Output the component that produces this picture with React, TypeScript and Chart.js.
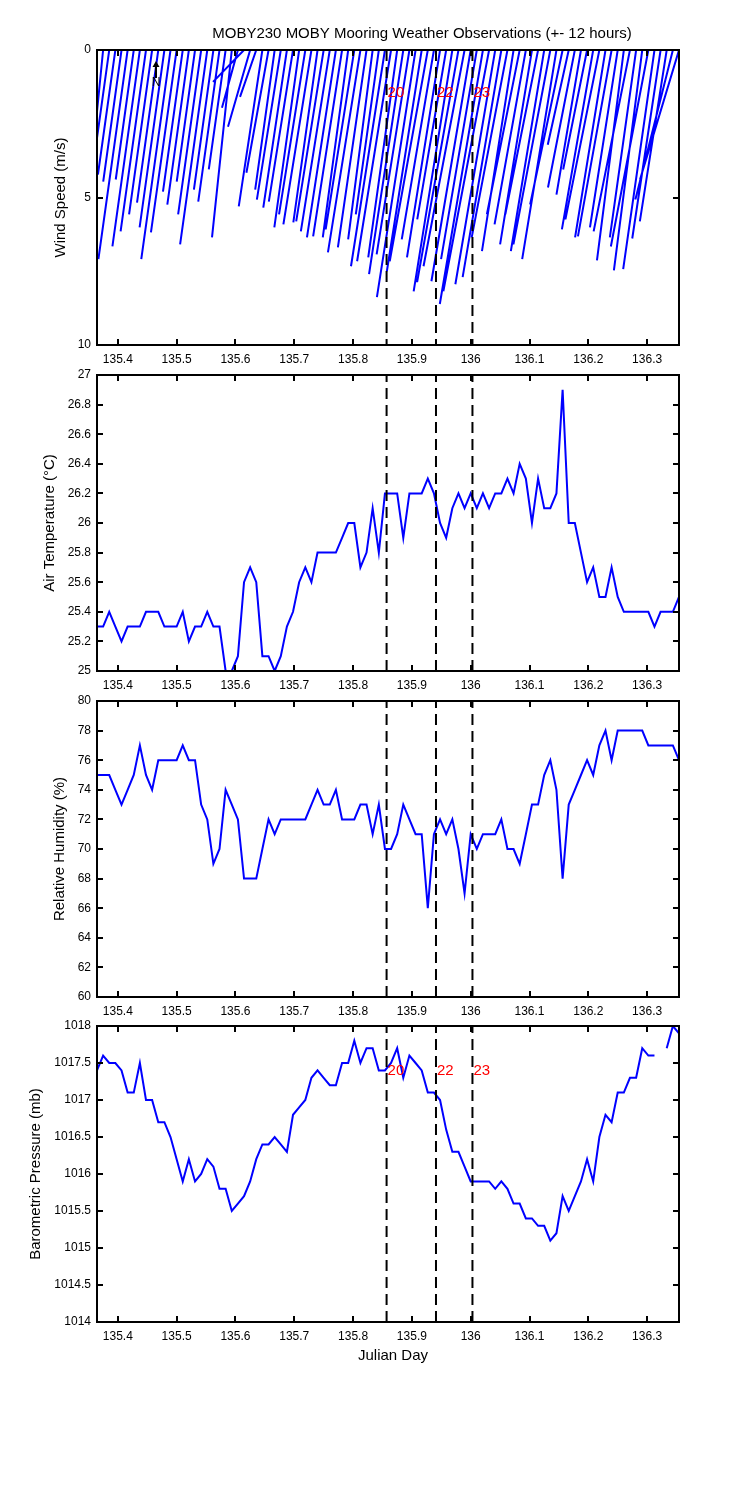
import React, { useEffect, useRef } from "react";
import { Chart, registerables } from "chart.js";

Chart.register(...registerables);

const FONT = "'Liberation Sans', Arial, Helvetica, sans-serif";
const BLUE = "#0000ff";

const chartTitle = "MOBY230 MOBY Mooring Weather Observations (+- 12 hours)";

// Julian day of each 15-minute sample
const julianDay = [
  135.3646, 135.375, 135.3854, 135.3958, 135.4063, 135.4167, 135.4271, 135.4375, 135.4479, 135.4583,
  135.4688, 135.4792, 135.4896, 135.5, 135.5104, 135.5208, 135.5313, 135.5417, 135.5521, 135.5625,
  135.5729, 135.5833, 135.5938, 135.6042, 135.6146, 135.625, 135.6354, 135.6458, 135.6563, 135.6667,
  135.6771, 135.6875, 135.6979, 135.7083, 135.7188, 135.7292, 135.7396, 135.75, 135.7604, 135.7708,
  135.7813, 135.7917, 135.8021, 135.8125, 135.8229, 135.8333, 135.8438, 135.8542, 135.8646, 135.875,
  135.8854, 135.8958, 135.9063, 135.9167, 135.9271, 135.9375, 135.9479, 135.9583, 135.9688, 135.9792,
  135.9896, 136.0, 136.0104, 136.0208, 136.0313, 136.0417, 136.0521, 136.0625, 136.0729, 136.0833,
  136.0938, 136.1042, 136.1146, 136.125, 136.1354, 136.1458, 136.1563, 136.1667, 136.1771, 136.1875,
  136.1979, 136.2083, 136.2188, 136.2292, 136.2396, 136.25, 136.2604, 136.2708, 136.2813, 136.2917,
  136.3021, 136.3125, 136.3229, 136.3333, 136.3438, 136.3542,
];

// wind vector components (m/s)
const windEast = [
  -0.21, -0.52, -0.54, -0.59, -0.62, -0.99, -0.61, -0.93, -0.86, -0.78,
  -0.72, -0.84, -0.99, -0.87, -0.67, -0.73, -0.62, -0.78, -0.92, -0.66,
  -0.72, -0.57, -0.67, -0.54, -1.05, -0.75, -0.55, -0.8, -0.75, -0.66,
  -0.81, -0.8, -0.82, -0.84, -0.89, -0.95, -0.82, -0.93, -0.98, -0.98,
  -0.98, -0.86, -0.97, -1.1, -0.97, -0.83, -0.78, -1.15, -1.15, -0.98,
  -1.16, -1.11, -1.31, -1.18, -1.29, -1.09, -1.12, -0.98, -1.31, -1.4,
  -1.39, -1.33, -1.21, -1.46, -1.55, -1.35, -1.31, -1.21, -1.07, -1.11,
  -1.06, -1.08, -1.11, -1.13, -1.25, -1.16, -1.1, -0.71, -0.91, -0.83,
  -0.81, -1.06, -1.15, -1.03, -1.14, -0.94, -0.91, -1.23, -0.89, -0.96,
  -1.27, -1.06, -0.96, -0.91, -1.27, -1.32,
];
const windNorth = [
  -7.09, -5.24, -3.89, -4.22, -4.46, -7.09, -4.39, -6.66, -6.15, -5.57,
  -5.17, -6.01, -7.09, -6.18, -4.8, -5.24, -4.46, -5.57, -6.59, -4.73,
  -5.14, -4.05, -6.35, -1.96, -1.08, -2.6, -1.59, -5.3, -4.16, -4.73,
  -5.07, -5.34, -5.14, -6.01, -5.57, -5.91, -5.84, -5.81, -6.15, -6.35,
  -6.32, -6.35, -6.08, -6.86, -6.69, -6.42, -5.57, -7.33, -7.16, -7.03,
  -7.6, -6.93, -8.38, -7.5, -7.16, -6.42, -7.03, -5.74, -8.18, -7.87,
  -7.33, -7.84, -7.09, -8.61, -8.18, -7.94, -7.7, -6.35, -6.82, -5.57,
  -5.91, -6.59, -5.57, -6.82, -6.59, -7.09, -5.24, -3.21, -4.66, -4.9,
  -4.05, -6.08, -5.74, -6.35, -6.32, -6.01, -7.13, -6.15, -6.35, -7.47,
  -6.66, -7.43, -6.39, -5.81, -5.07, -4.39,
];

const airTemp = [
  25.3, 25.3, 25.4, 25.3, 25.2, 25.3, 25.3, 25.3, 25.4, 25.4,
  25.4, 25.3, 25.3, 25.3, 25.4, 25.2, 25.3, 25.3, 25.4, 25.3,
  25.3, 25.0, 25.0, 25.1, 25.6, 25.7, 25.6, 25.1, 25.1, 25.0,
  25.1, 25.3, 25.4, 25.6, 25.7, 25.6, 25.8, 25.8, 25.8, 25.8,
  25.9, 26.0, 26.0, 25.7, 25.8, 26.1, 25.8, 26.2, 26.2, 26.2,
  25.9, 26.2, 26.2, 26.2, 26.3, 26.2, 26.0, 25.9, 26.1, 26.2,
  26.1, 26.2, 26.1, 26.2, 26.1, 26.2, 26.2, 26.3, 26.2, 26.4,
  26.3, 26.0, 26.3, 26.1, 26.1, 26.2, 26.9, 26.0, 26.0, 25.8,
  25.6, 25.7, 25.5, 25.5, 25.7, 25.5, 25.4, 25.4, 25.4, 25.4,
  25.4, 25.3, 25.4, 25.4, 25.4, 25.5,
];

const relHumidity = [
  75, 75, 75, 74, 73, 74, 75, 77, 75, 74,
  76, 76, 76, 76, 77, 76, 76, 73, 72, 69,
  70, 74, 73, 72, 68, 68, 68, 70, 72, 71,
  72, 72, 72, 72, 72, 73, 74, 73, 73, 74,
  72, 72, 72, 73, 73, 71, 73, 70, 70, 71,
  73, 72, 71, 71, 66, 71, 72, 71, 72, 70,
  67, 71, 70, 71, 71, 71, 72, 70, 70, 69,
  71, 73, 73, 75, 76, 74, 68, 73, 74, 75,
  76, 75, 77, 78, 76, 78, 78, 78, 78, 78,
  77, 77, 77, 77, 77, 76,
];

const pressure = [
  1017.4, 1017.6, 1017.5, 1017.5, 1017.4, 1017.1, 1017.1, 1017.5, 1017.0, 1017.0,
  1016.7, 1016.7, 1016.5, 1016.2, 1015.9, 1016.2, 1015.9, 1016.0, 1016.2, 1016.1,
  1015.8, 1015.8, 1015.5, 1015.6, 1015.7, 1015.9, 1016.2, 1016.4, 1016.4, 1016.5,
  1016.4, 1016.3, 1016.8, 1016.9, 1017.0, 1017.3, 1017.4, 1017.3, 1017.2, 1017.2,
  1017.5, 1017.5, 1017.8, 1017.5, 1017.7, 1017.7, 1017.4, 1017.4, 1017.5, 1017.7,
  1017.3, 1017.6, 1017.5, 1017.4, 1017.1, 1017.1, 1017.0, 1016.6, 1016.3, 1016.3,
  1016.1, 1015.9, 1015.9, 1015.9, 1015.9, 1015.8, 1015.9, 1015.8, 1015.6, 1015.6,
  1015.4, 1015.4, 1015.3, 1015.3, 1015.1, 1015.2, 1015.7, 1015.5, 1015.7, 1015.9,
  1016.2, 1015.9, 1016.5, 1016.8, 1016.7, 1017.1, 1017.1, 1017.3, 1017.3, 1017.7,
  1017.6, 1017.6, null, 1017.7, 1018.0, 1017.9,
];

const eventDays = [135.857, 135.941, 136.003];
const eventLabels = ["20", "22", "23"];
const eventLabelWind = 1.45;
const eventLabelPressure = 1017.4;

const northArrowDay = 135.465;
const northArrowTail = 0.95;
const northArrowHead = 0.37;
const northLabelY = 1.12;

const xTicks = [135.4, 135.5, 135.6, 135.7, 135.8, 135.9, 136.0, 136.1, 136.2, 136.3];
const windTicks = [0, 5, 10];
const tempTicks = [25, 25.2, 25.4, 25.6, 25.8, 26, 26.2, 26.4, 26.6, 26.8, 27];
const humidityTicks = [60, 62, 64, 66, 68, 70, 72, 74, 76, 78, 80];
const pressureTicks = [1014, 1014.5, 1015, 1015.5, 1016, 1016.5, 1017, 1017.5, 1018];

// converts m/s of east wind into days on the time axis so sticks keep true angles
const stickDaysPerMs = 0.0502;

const fmt = (v: number) => String(Math.round(v * 10) / 10);

type Deco = (chart: any, ctx: CanvasRenderingContext2D) => void;

type PanelSpec = {
  key: string;
  top: number;
  height: number;
  padTop: number;
  xAxisHeight: number;
  yMin: number;
  yMax: number;
  reverse: boolean;
  yTicks: number[];
  yLabel: string;
  yLabelX: number;
  datasets: any[];
  decorate?: Deco;
};

const lineSet = (values: (number | null)[]) => ({
  data: julianDay.map((d, i) => ({ x: d, y: values[i] })),
  borderColor: BLUE,
  borderWidth: 2,
  pointRadius: 0,
  spanGaps: false,
  fill: false,
  tension: 0,
});

const eventSets = (yMin: number, yMax: number) =>
  eventDays.map((d) => ({
    data: [
      { x: d, y: yMin },
      { x: d, y: yMax },
    ],
    borderColor: "#000",
    borderWidth: 2,
    borderDash: [11, 6],
    pointRadius: 0,
    fill: false,
  }));

const stickPoints: { x: number; y: number | null }[] = [];
julianDay.forEach((d, i) => {
  stickPoints.push({ x: d, y: 0 });
  stickPoints.push({ x: d + windEast[i] * stickDaysPerMs, y: -windNorth[i] });
  stickPoints.push({ x: d, y: null });
});

const drawEventLabels = (chart: any, ctx: CanvasRenderingContext2D, yVal: number) => {
  const { x: xs, y: ys } = chart.scales;
  ctx.fillStyle = "#ff0000";
  ctx.font = `15px ${FONT}`;
  ctx.textAlign = "left";
  ctx.textBaseline = "middle";
  eventDays.forEach((d, k) => {
    ctx.fillText(eventLabels[k], xs.getPixelForValue(d) + 1, ys.getPixelForValue(yVal));
  });
};

const panels: PanelSpec[] = [
  {
    key: "wind",
    top: 0,
    height: 370,
    padTop: 50,
    xAxisHeight: 25,
    yMin: 0,
    yMax: 10,
    reverse: true,
    yTicks: windTicks,
    yLabel: "Wind Speed (m/s)",
    yLabelX: 61,
    datasets: [
      ...eventSets(0, 10),
      {
        data: stickPoints,
        borderColor: BLUE,
        borderWidth: 2,
        pointRadius: 0,
        spanGaps: false,
        fill: false,
        tension: 0,
      },
    ],
    decorate: (chart, ctx) => {
      const { x: xs, y: ys } = chart.scales;
      ctx.fillStyle = "#000";
      ctx.font = `15px ${FONT}`;
      ctx.textAlign = "center";
      ctx.textBaseline = "middle";
      ctx.fillText(chartTitle, 422, 34);
      const ax = Math.round(xs.getPixelForValue(northArrowDay));
      const yTail = ys.getPixelForValue(northArrowTail);
      const yHead = ys.getPixelForValue(northArrowHead);
      ctx.strokeStyle = "#000";
      ctx.lineWidth = 2;
      ctx.beginPath();
      ctx.moveTo(ax, yTail);
      ctx.lineTo(ax, yHead + 4);
      ctx.stroke();
      ctx.beginPath();
      ctx.moveTo(ax, yHead);
      ctx.lineTo(ax - 3.5, yHead + 6);
      ctx.lineTo(ax + 3.5, yHead + 6);
      ctx.closePath();
      ctx.fill();
      ctx.font = `12px ${FONT}`;
      ctx.fillText("N", ax, ys.getPixelForValue(northLabelY));
      drawEventLabels(chart, ctx, eventLabelWind);
    },
  },
  {
    key: "temp",
    top: 355,
    height: 341,
    padTop: 20,
    xAxisHeight: 25,
    yMin: 25,
    yMax: 27,
    reverse: false,
    yTicks: tempTicks,
    yLabel: "Air Temperature (\u00B0C)",
    yLabelX: 50,
    datasets: [...eventSets(25, 27), lineSet(airTemp)],
  },
  {
    key: "rh",
    top: 681,
    height: 341,
    padTop: 20,
    xAxisHeight: 25,
    yMin: 60,
    yMax: 80,
    reverse: false,
    yTicks: humidityTicks,
    yLabel: "Relative Humidity (%)",
    yLabelX: 60,
    datasets: [...eventSets(60, 80), lineSet(relHumidity)],
  },
  {
    key: "pres",
    top: 1006,
    height: 494,
    padTop: 20,
    xAxisHeight: 178,
    yMin: 1014,
    yMax: 1018,
    reverse: false,
    yTicks: pressureTicks,
    yLabel: "Barometric Pressure (mb)",
    yLabelX: 36,
    datasets: [...eventSets(1014, 1018), lineSet(pressure)],
    decorate: (chart, ctx) => {
      const a = chart.chartArea;
      ctx.fillStyle = "#000";
      ctx.font = `15px ${FONT}`;
      ctx.textAlign = "center";
      ctx.textBaseline = "middle";
      ctx.fillText("Julian Day", (a.left + a.right) / 2 + 5, a.bottom + 34);
      drawEventLabels(chart, ctx, eventLabelPressure);
    },
  },
];

const makeAxesPlugin = (spec: PanelSpec) => ({
  id: "matlabAxes_" + spec.key,
  afterDatasetsDraw(chart: any) {
    const { ctx, chartArea: a, scales } = chart;
    const xs = scales.x;
    const ys = scales.y;
    ctx.save();
    ctx.strokeStyle = "#000";
    ctx.lineWidth = 2;
    ctx.setLineDash([]);
    ctx.beginPath();
    for (const v of xTicks) {
      const px = Math.round(xs.getPixelForValue(v));
      ctx.moveTo(px, a.bottom);
      ctx.lineTo(px, a.bottom - 6);
      ctx.moveTo(px, a.top);
      ctx.lineTo(px, a.top + 6);
    }
    for (const v of spec.yTicks) {
      const py = Math.round(ys.getPixelForValue(v));
      ctx.moveTo(a.left, py);
      ctx.lineTo(a.left + 6, py);
      ctx.moveTo(a.right, py);
      ctx.lineTo(a.right - 6, py);
    }
    ctx.stroke();
    ctx.strokeRect(a.left, a.top, a.right - a.left, a.bottom - a.top);

    ctx.fillStyle = "#000";
    ctx.font = `15px ${FONT}`;
    ctx.textAlign = "center";
    ctx.textBaseline = "middle";
    ctx.save();
    ctx.translate(spec.yLabelX, (a.top + a.bottom) / 2);
    ctx.rotate(-Math.PI / 2);
    ctx.fillText(spec.yLabel, 0, 0);
    ctx.restore();

    if (spec.decorate) spec.decorate(chart, ctx);
    ctx.restore();
  },
});

const buildConfig = (spec: PanelSpec): any => ({
  type: "line",
  data: { datasets: spec.datasets },
  options: {
    responsive: false,
    maintainAspectRatio: false,
    animation: false,
    devicePixelRatio: 1,
    events: [],
    layout: { padding: { top: spec.padTop, right: 71, left: 0, bottom: 0 } },
    plugins: {
      legend: { display: false },
      tooltip: { enabled: false },
      title: { display: false },
    },
    scales: {
      x: {
        type: "linear",
        min: julianDay[0],
        max: julianDay[julianDay.length - 1],
        afterBuildTicks: (s: any) => {
          s.ticks = xTicks.map((v) => ({ value: v }));
        },
        afterFit: (s: any) => {
          s.height = spec.xAxisHeight;
          s.paddingLeft = 0;
          s.paddingRight = 0;
        },
        grid: { display: false, drawTicks: false },
        border: { display: false },
        ticks: {
          autoSkip: false,
          maxRotation: 0,
          minRotation: 0,
          padding: 7,
          color: "#000",
          font: { family: FONT, size: 12 },
          callback: (v: any) => fmt(Number(v)),
        },
      },
      y: {
        type: "linear",
        min: spec.yMin,
        max: spec.yMax,
        reverse: spec.reverse,
        afterBuildTicks: (s: any) => {
          s.ticks = spec.yTicks.map((v) => ({ value: v }));
        },
        afterFit: (s: any) => {
          s.width = 97;
          s.paddingTop = 0;
          s.paddingBottom = 0;
        },
        grid: { display: false, drawTicks: false },
        border: { display: false },
        ticks: {
          autoSkip: false,
          padding: 6,
          color: "#000",
          font: { family: FONT, size: 12 },
          callback: (v: any) => fmt(Number(v)),
        },
      },
    },
  },
  plugins: [makeAxesPlugin(spec)],
});

function Panel({ spec }: { spec: PanelSpec }) {
  const ref = useRef<HTMLCanvasElement>(null);
  useEffect(() => {
    if (!ref.current) return;
    const chart = new Chart(ref.current, buildConfig(spec));
    return () => chart.destroy();
  }, [spec]);
  return (
    <canvas
      ref={ref}
      width={750}
      height={spec.height}
      style={{ position: "absolute", left: 0, top: spec.top, width: 750, height: spec.height, display: "block" }}
    />
  );
}

export default function App() {
  return (
    <div
      style={{
        position: "absolute",
        left: 0,
        top: 0,
        width: 750,
        height: 1500,
        background: "#ffffff",
        overflow: "hidden",
      }}
    >
      {panels.map((p) => (
        <Panel key={p.key} spec={p} />
      ))}
    </div>
  );
}
